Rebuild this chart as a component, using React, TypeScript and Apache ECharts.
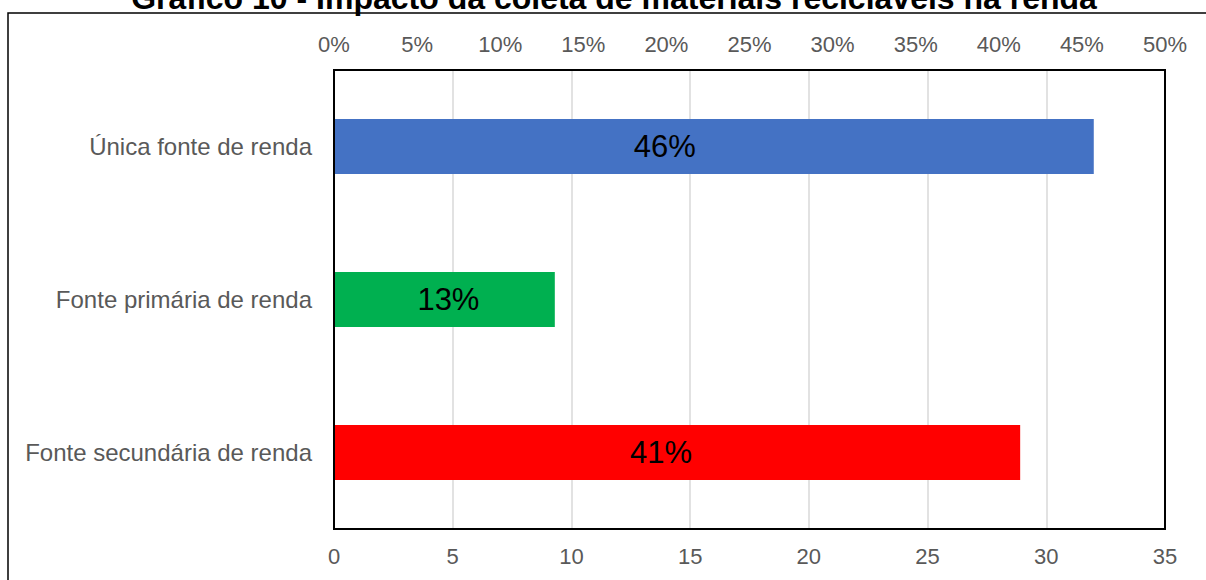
import React, { useEffect, useRef } from "react";
import * as echarts from "echarts";

const title = "Gráfico 10 - Impacto da coleta de materiais recicláveis na renda";
const categories = ["Única fonte de renda", "Fonte primária de renda", "Fonte secundária de renda"];
const values = [32.0, 9.3, 28.9];
const percentLabels = ["46%", "13%", "41%"];
const barColors = ["#4472C4", "#00B050", "#FF0000"];
const labelOffsets = [-49, 4, -16];

export default function App() {
  const ref = useRef<HTMLDivElement>(null);
  useEffect(() => {
    if (!ref.current) return;
    const chart = echarts.init(ref.current, undefined, { renderer: "svg" });
    const font = "'Liberation Sans', Arial, sans-serif";
    const gl = 334, gr = 41, gt = 70, gb = 51;
    chart.setOption({
      animation: false,
      backgroundColor: "#fff",
      textStyle: { fontFamily: font },
      grid: {
        left: gl,
        right: gr,
        top: gt,
        bottom: gb,
        show: false,
        containLabel: false,
      },
      xAxis: [
        {
          type: "value",
          position: "bottom",
          min: 0,
          max: 35,
          interval: 5,
          axisLine: { show: false },
          axisTick: { show: false },
          splitLine: { show: true, lineStyle: { color: "#d9d9d9", width: 1.5 } },
          axisLabel: { color: "#595959", fontSize: 22, margin: 16, fontFamily: font },
        },
        {
          type: "value",
          position: "top",
          min: 0,
          max: 0.5,
          interval: 0.05,
          axisLine: { show: false },
          axisTick: { show: false },
          splitLine: { show: false },
          axisLabel: {
            color: "#595959",
            fontSize: 22,
            margin: 15,
            fontFamily: font,
            formatter: (v: number) => Math.round(v * 100) + "%",
          },
        },
      ],
      yAxis: {
        type: "category",
        data: categories,
        inverse: true,
        axisLine: { show: false },
        axisTick: { show: false },
        splitLine: { show: false },
        axisLabel: { color: "#595959", fontSize: 24, margin: 22, fontFamily: font },
      },
      series: [
        {
          type: "bar",
          xAxisIndex: 0,
          barWidth: 55,
          data: values.map((v, i) => ({
            value: v,
            itemStyle: { color: barColors[i] },
            label: { offset: [labelOffsets[i], 0] },
          })),
          label: {
            show: true,
            position: "inside",
            color: "#000",
            fontSize: 31,
            fontFamily: font,
            formatter: (p: any) => percentLabels[p.dataIndex],
          },
        },
      ],
      graphic: [
        {
          type: "rect",
          shape: { x: gl, y: gt, width: 1206 - gl - gr, height: 580 - gt - gb },
          style: { fill: "none", stroke: "#000", lineWidth: 2 },
          silent: true,
          z: 100,
        },
        {
          type: "rect",
          shape: { x: 8, y: 13, width: 1210, height: 600 },
          style: { fill: "none", stroke: "#000", lineWidth: 1.5 },
          silent: true,
          z: 100,
        },
        {
          type: "text",
          x: 614,
          y: -2,
          style: {
            text: title,
            fill: "#000",
            font: "bold 32px 'Liberation Sans', Arial, sans-serif",
            textAlign: "center",
            textVerticalAlign: "middle",
          },
          z: 100,
        },
      ],
    });
    return () => chart.dispose();
  }, []);
  return (
    <div
      ref={ref}
      style={{ position: "fixed", left: 0, top: 0, width: 1206, height: 580 }}
    />
  );
}
